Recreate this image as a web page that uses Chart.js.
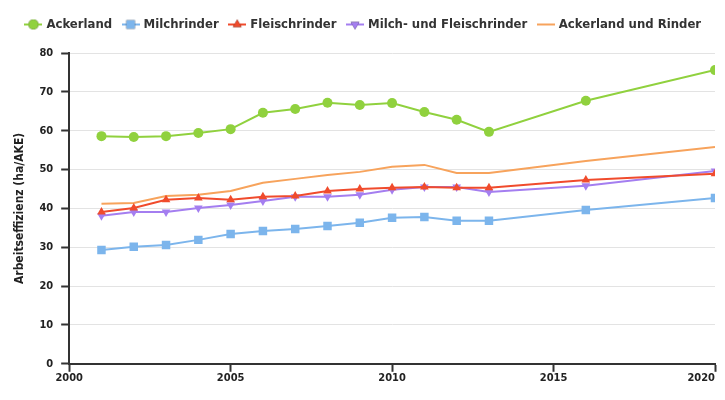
<!DOCTYPE html>
<html>
<head>
<meta charset="utf-8">
<script src="https://cdn.jsdelivr.net/npm/chart.js@4/dist/chart.umd.min.js"></script>
<style>
  html, body { margin: 0; padding: 0; background: #fff; }
  #wrap { width: 725px; height: 400px; }
</style>
</head>
<body>
<div id="wrap"><canvas id="myChart" width="725" height="400"></canvas></div>
<script>
"use strict";
// years of the survey
let years = [2001, 2002, 2003, 2004, 2005, 2006, 2007, 2008, 2009, 2010, 2011, 2012, 2013, 2016, 2020];
// ha per AKE
let ackerland = [58.6, 58.4, 58.6, 59.4, 60.4, 64.6, 65.6, 67.2, 66.6, 67.1, 64.8, 62.8, 59.7, 67.7, 75.6];
let milchrinder = [29.3, 30.1, 30.6, 31.9, 33.4, 34.2, 34.7, 35.5, 36.3, 37.6, 37.8, 36.8, 36.8, 39.6, 42.7];
let fleischrinder = [39.1, 40.1, 42.2, 42.7, 42.2, 43.0, 43.2, 44.5, 45.0, 45.3, 45.5, 45.3, 45.3, 47.3, 48.9];
let milchFleisch = [38.1, 39.1, 39.1, 40.1, 40.9, 41.9, 43.0, 43.0, 43.5, 44.8, 45.5, 45.5, 44.2, 45.8, 49.6];
let ackerRinder = [41.2, 41.4, 43.2, 43.5, 44.5, 46.6, 47.6, 48.6, 49.4, 50.7, 51.2, 49.1, 49.1, 52.2, 55.8];
let seriesNames = ["Ackerland", "Milchrinder", "Fleischrinder", "Milch- und Fleischrinder", "Ackerland und Rinder"];
let xTicks = [2000, 2005, 2010, 2015, 2020];

let colors = ["#90d13e", "#7cb5ec", "#f04b2c", "#a47ef0", "#f7a35c"];
let styles = ["circle", "rect", "triangle", "triangle", false];
let rotations = [0, 0, 0, 180, 0];
let radii = [5, 6, 5, 5, 0];

function toPoints(arr) {
  let out = [];
  for (let i = 0; i < years.length; i++) {
    out.push({ x: years[i], y: arr[i] });
  }
  return out;
}

// little legend icon: line with marker in the middle
function legendIcon(i) {
  let c = document.createElement("canvas");
  c.width = 18;
  c.height = 12;
  let g = c.getContext("2d");
  g.strokeStyle = colors[i];
  g.lineWidth = 2;
  g.beginPath();
  g.moveTo(0, 6);
  g.lineTo(18, 6);
  g.stroke();
  if (styles[i]) {
    g.save();
    g.translate(9, 6);
    Chart.helpers.drawPoint(g, { pointStyle: styles[i], rotation: rotations[i], radius: radii[i], borderWidth: 0 }, 0, 0);
    g.fillStyle = colors[i];
    g.fill();
    g.restore();
  }
  return c;
}

let allData = [ackerland, milchrinder, fleischrinder, milchFleisch, ackerRinder];
let datasets = [];
for (let i = 0; i < allData.length; i++) {
  datasets.push({
    label: seriesNames[i],
    data: toPoints(allData[i]),
    borderColor: colors[i],
    backgroundColor: colors[i],
    borderWidth: 2,
    pointStyle: styles[i] || "circle",
    pointRotation: rotations[i],
    pointRadius: radii[i],
    pointHoverRadius: radii[i],
    pointBorderWidth: 0,
    tension: 0,
  });
}

// push the plot a bit below the legend
let legendGap = {
  id: "legendGap",
  beforeInit: function (chart) {
    let fit = chart.legend.fit;
    chart.legend.fit = function () {
      fit.bind(chart.legend)();
      this.height += 12;
    };
  },
};

// last x label sits right-aligned at the end of the axis
let lastLabelRight = {
  id: "lastLabelRight",
  beforeDraw: function (chart) {
    let items = chart.scales.x.getLabelItems();
    if (items.length) {
      items[items.length - 1].options.textAlign = "right";
    }
  },
};

let font = "'DejaVu Sans Condensed', 'DejaVu Sans', sans-serif";
let ctx = document.getElementById("myChart").getContext("2d");
let myChart = new Chart(ctx, {
  type: "line",
  data: { datasets: datasets },
  plugins: [legendGap, lastLabelRight],
  options: {
    responsive: false,
    animation: false,
    layout: { padding: { left: 13, right: 10, top: 6, bottom: 15 } },
    plugins: {
      tooltip: { enabled: false },
      legend: {
        position: "top",
        labels: {
          color: "#333",
          font: { family: font, size: 13, weight: "bold" },
          usePointStyle: true,
          boxHeight: 12,
          padding: 12,
          generateLabels: function (chart) {
            return chart.data.datasets.map(function (ds, i) {
              return {
                text: ds.label,
                fillStyle: colors[i],
                strokeStyle: colors[i],
                lineWidth: 0,
                pointStyle: legendIcon(i),
                hidden: false,
                datasetIndex: i,
                fontColor: "#333",
              };
            });
          },
        },
      },
    },
    scales: {
      x: {
        type: "linear",
        min: 2000,
        max: 2020,
        afterBuildTicks: function (axis) {
          axis.ticks = xTicks.map(function (v) { return { value: v }; });
        },
        afterFit: function (axis) {
          axis.paddingRight = 0;
        },
        grid: {
          drawOnChartArea: false,
          color: "#333",
          tickColor: "#333",
          tickLength: 8,
          tickWidth: 2,
        },
        border: { color: "#333", width: 2 },
        ticks: {
          color: "#222",
          font: { family: font, size: 11, weight: "bold" },
          padding: 0,
          maxRotation: 0,
          callback: function (v) { return String(v); },
        },
      },
      y: {
        min: 0,
        max: 80,
        ticks: {
          stepSize: 10,
          color: "#222",
          font: { family: font, size: 11, weight: "bold" },
          padding: 8,
        },
        grid: {
          color: "#e3e3e3",
          tickColor: "#333",
          tickLength: 8,
          tickWidth: 2,
        },
        border: { color: "#333", width: 2 },
        title: {
          display: true,
          text: "Arbeitseffizienz (ha/AKE)",
          color: "#222",
          font: { family: font, size: 12, weight: "bold" },
          padding: { top: 0, bottom: 4 },
        },
      },
    },
  },
});
</script>
</body>
</html>
